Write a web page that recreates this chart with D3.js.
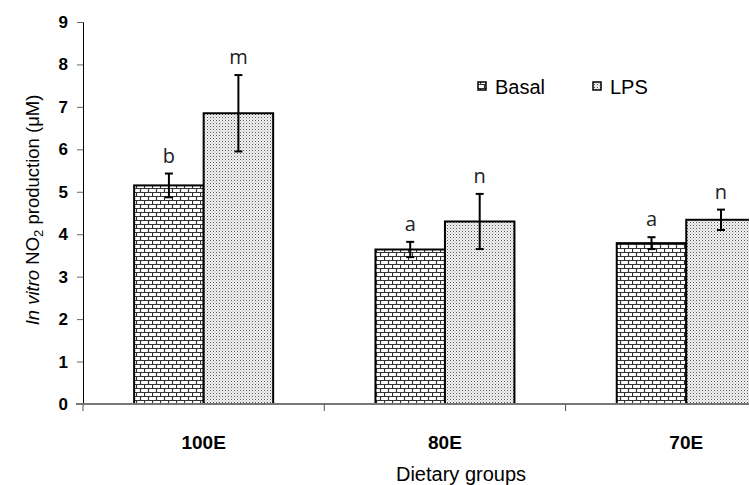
<!DOCTYPE html>
<html>
<head>
<meta charset="utf-8">
<script src="https://cdn.jsdelivr.net/npm/d3@7/dist/d3.min.js"></script>
<style>
  body { margin: 0; background: #fff; }
  svg { display: block; font-family: "Liberation Sans", Arial, sans-serif; }
</style>
</head>
<body>
<svg id="chart" width="749" height="485"></svg>
<script>
// chart values
const groups = ['100E', '80E', '70E'];
const series = ['Basal', 'LPS'];
const basal = [5.15, 3.64, 3.79];
const basalErr = [0.28, 0.18, 0.14];
const lps = [6.85, 4.30, 4.34];
const lpsErr = [0.90, 0.65, 0.24];
const basalLetters = ['b', 'a', 'a'];
const lpsLetters = ['m', 'n', 'n'];
const yTicks = [0, 1, 2, 3, 4, 5, 6, 7, 8, 9];

const svg = d3.select('#chart');
const defs = svg.append('defs');

// brick fill for the basal bars
let brick = defs.append('pattern')
    .attr('id', 'brick')
    .attr('patternUnits', 'userSpaceOnUse')
    .attr('width', 8).attr('height', 8);
brick.append('rect').attr('width', 8).attr('height', 8).attr('fill', '#fff');
brick.append('path')
    .attr('d', 'M0,0.5H8M0,4.5H8M0.5,0V4M4.5,4V8')
    .attr('stroke', '#333').attr('stroke-width', 1.2);

// fine dots for the LPS bars
let dots = defs.append('pattern')
    .attr('id', 'dots')
    .attr('patternUnits', 'userSpaceOnUse')
    .attr('width', 3).attr('height', 3);
dots.append('rect').attr('width', 3).attr('height', 3).attr('fill', '#f4f4f4');
dots.append('rect').attr('width', 1).attr('height', 1).attr('fill', '#555');
dots.append('rect').attr('x', 1.5).attr('y', 1.5).attr('width', 1).attr('height', 1).attr('fill', '#999');

const fills = {Basal: 'url(#brick)', LPS: 'url(#dots)'};

const x = d3.scaleBand().domain(groups).range([83, 83 + 3 * 241.3]);
const x1 = d3.scaleBand().domain(series).range([0, x.bandwidth()]).paddingOuter(0.736);
const y = d3.scaleLinear().domain([0, 9]).range([404, 22]);

// y axis
let yAxis = svg.append('g')
    .attr('transform', 'translate(83,0)')
    .call(d3.axisLeft(y).tickValues(yTicks).tickSize(6).tickPadding(9).tickFormat(d3.format('d')))
    .attr('font-family', null)
    .attr('font-size', null);
yAxis.select('.domain').attr('stroke', '#000').attr('stroke-width', 1);
yAxis.selectAll('.tick line').attr('stroke', '#666');
yAxis.selectAll('.tick text')
    .attr('font-size', 17).attr('font-weight', 'bold').attr('fill', '#000');

// bars
let rows = groups.map((g, i) => [
    {group: g, key: 'Basal', v: basal[i], e: basalErr[i], letter: basalLetters[i]},
    {group: g, key: 'LPS', v: lps[i], e: lpsErr[i], letter: lpsLetters[i]}
]).flat();

svg.append('g').selectAll('rect')
    .data(rows)
    .enter()
    .append('rect')
    .attr('x', d => x(d.group) + x1(d.key))
    .attr('y', d => y(d.v))
    .attr('width', x1.bandwidth())
    .attr('height', d => y(0) - y(d.v))
    .attr('fill', d => fills[d.key])
    .attr('stroke', '#000')
    .attr('stroke-width', 2);

// x axis (drawn over the bar bottoms)
let xAxis = svg.append('g')
    .attr('transform', 'translate(0,404)');
xAxis.append('line')
    .attr('x1', 76).attr('x2', 749)
    .attr('stroke', '#777').attr('stroke-width', 2);
xAxis.selectAll('.sep')
    .data(groups)
    .enter()
    .append('line')
    .attr('x1', d => x(d)).attr('x2', d => x(d))
    .attr('y1', 0).attr('y2', 7)
    .attr('stroke', '#555').attr('stroke-width', 1);
xAxis.selectAll('.lbl')
    .data(groups)
    .enter()
    .append('text')
    .attr('x', d => x(d) + x.bandwidth() / 2)
    .attr('y', 45)
    .attr('text-anchor', 'middle')
    .attr('font-size', 19)
    .attr('font-weight', 'bold')
    .text(d => d);

// error bars
let err = svg.append('g').attr('stroke', '#000').attr('stroke-width', 2);
rows.forEach(d => {
    let cx = x(d.group) + x1(d.key) + x1.bandwidth() / 2;
    err.append('line').attr('x1', cx).attr('x2', cx).attr('y1', y(d.v + d.e)).attr('y2', y(d.v - d.e));
    err.append('line').attr('x1', cx - 4).attr('x2', cx + 4).attr('y1', y(d.v + d.e)).attr('y2', y(d.v + d.e));
    err.append('line').attr('x1', cx - 4).attr('x2', cx + 4).attr('y1', y(d.v - d.e)).attr('y2', y(d.v - d.e));
});

// significance letters
svg.append('g').selectAll('text')
    .data(rows)
    .enter()
    .append('text')
    .attr('x', d => x(d.group) + x1(d.key) + x1.bandwidth() / 2)
    .attr('y', d => y(d.v + d.e) - 11)
    .attr('text-anchor', 'middle')
    .attr('font-family', '"Open Sans", sans-serif')
    .attr('font-size', 20)
    .attr('fill', '#222')
    .text(d => d.letter);

// legend
let legendX = [478, 593];
let legend = svg.append('g');
series.forEach((s, i) => {
    legend.append('rect')
        .attr('x', legendX[i]).attr('y', 82)
        .attr('width', 8).attr('height', 8)
        .attr('fill', fills[s]).attr('stroke', '#000').attr('stroke-width', 1.5);
    legend.append('text')
        .attr('x', legendX[i] + 17).attr('y', 94)
        .attr('font-size', 20)
        .text(s);
});

// axis titles
svg.append('text')
    .attr('x', 461).attr('y', 481)
    .attr('text-anchor', 'middle')
    .attr('font-size', 20)
    .text('Dietary groups');

let yt = svg.append('text')
    .attr('transform', 'translate(39,210) rotate(-90)')
    .attr('text-anchor', 'middle')
    .attr('font-size', 18.5);
yt.append('tspan').attr('font-style', 'italic').text('In vitro');
yt.append('tspan').text(' NO');
yt.append('tspan').attr('font-size', 13).attr('dy', 4).text('2');
yt.append('tspan').attr('dy', -4).text(' production (\u03bcM)');
</script>
</body>
</html>
